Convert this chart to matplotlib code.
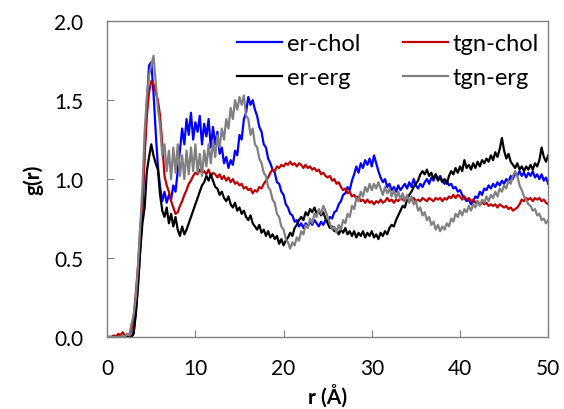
import numpy as np
import matplotlib
matplotlib.use('Agg')
import matplotlib.pyplot as plt

# radial distance grid (0.25 A bins) and g(r)
r = np.arange(0, 50.01, 0.25)

er_chol = [
    0, 0, 0, 0, 0, 0, 0, 0, 0, 0, 0, 0, 0.03, 0.15, 0.35, 0.55, 0.80, 1.18, 1.48, 1.72,
    1.74, 1.55, 1.30, 1.08, 0.95, 0.86, 0.92, 0.85, 0.90, 0.87, 0.96, 0.92, 1.05, 1.18, 1.32, 1.22, 1.38, 1.28, 1.42, 1.25,
    1.36, 1.30, 1.40, 1.22, 1.35, 1.27, 1.38, 1.20, 1.33, 1.22, 1.30, 1.16, 1.20, 1.10, 1.14, 1.07, 1.12, 1.09, 1.18, 1.15,
    1.28, 1.25, 1.38, 1.42, 1.52, 1.47, 1.50, 1.44, 1.40, 1.33, 1.30, 1.22, 1.20, 1.13, 1.10, 1.06, 1.04, 0.98, 0.97, 0.92,
    0.90, 0.84, 0.82, 0.78, 0.77, 0.73, 0.74, 0.70, 0.72, 0.69, 0.72, 0.70, 0.73, 0.71, 0.74, 0.72, 0.70, 0.73, 0.71, 0.74,
    0.73, 0.76, 0.75, 0.79, 0.80, 0.84, 0.86, 0.90, 0.91, 0.95, 0.93, 0.99, 1.03, 1.08, 1.04, 1.10, 1.07, 1.12, 1.09, 1.13,
    1.08, 1.15, 1.10, 1.05, 1.01, 0.98, 1.00, 0.95, 0.97, 0.93, 0.95, 0.92, 0.96, 0.93, 0.95, 0.97, 0.94, 0.98, 0.95, 1.00,
    0.96, 0.94, 0.97, 0.95, 0.98, 1.00, 0.97, 1.01, 0.99, 1.03, 1.00, 1.02, 0.99, 0.97, 0.99, 0.96, 0.97, 0.94, 0.95, 0.92,
    0.93, 0.90, 0.88, 0.86, 0.87, 0.84, 0.86, 0.89, 0.88, 0.92, 0.90, 0.94, 0.93, 0.96, 0.94, 0.97, 0.95, 0.98, 0.96, 0.99,
    0.97, 1.00, 0.98, 1.02, 1.00, 1.04, 1.02, 1.05, 1.02, 1.04, 1.01, 1.04, 1.02, 1.05, 1.01, 1.03, 1.00, 1.03, 0.99, 1.01,
    0.97,
]

tgn_chol = [
    0, 0, 0, 0.01, 0, 0.02, 0.01, 0.03, 0.01, 0.02, 0.01, 0.04, 0.12, 0.28, 0.45, 0.68, 0.85, 1.15, 1.40, 1.55,
    1.62, 1.60, 1.55, 1.50, 1.40, 1.22, 1.02, 0.96, 0.92, 0.86, 0.82, 0.78, 0.79, 0.83, 0.86, 0.90, 0.93, 0.97, 0.99, 1.02,
    1.04, 1.03, 1.06, 1.04, 1.05, 1.03, 1.06, 1.02, 1.04, 1.03, 1.01, 1.03, 1.00, 1.02, 0.99, 1.01, 0.98, 1.00, 0.97, 0.98,
    0.96, 0.97, 0.94, 0.95, 0.93, 0.94, 0.91, 0.93, 0.92, 0.95, 0.94, 0.97, 0.99, 1.01, 1.04, 1.06, 1.05, 1.08, 1.07, 1.09,
    1.08, 1.10, 1.09, 1.11, 1.09, 1.10, 1.08, 1.10, 1.09, 1.07, 1.09, 1.07, 1.08, 1.06, 1.07, 1.05, 1.06, 1.03, 1.04, 1.02,
    1.01, 1.02, 0.99, 1.00, 0.97, 0.98, 0.95, 0.93, 0.94, 0.91, 0.92, 0.89, 0.90, 0.88, 0.89, 0.86, 0.87, 0.85, 0.87, 0.85,
    0.86, 0.84, 0.86, 0.85, 0.87, 0.85, 0.86, 0.88, 0.86, 0.87, 0.85, 0.87, 0.86, 0.88, 0.87, 0.86, 0.88, 0.86, 0.87, 0.88,
    0.86, 0.87, 0.86, 0.88, 0.87, 0.86, 0.88, 0.87, 0.86, 0.88, 0.87, 0.88, 0.86, 0.88, 0.87, 0.89, 0.88, 0.90, 0.88, 0.90,
    0.89, 0.87, 0.89, 0.87, 0.88, 0.86, 0.87, 0.85, 0.86, 0.84, 0.85, 0.84, 0.85, 0.83, 0.84, 0.83, 0.84, 0.82, 0.84, 0.83,
    0.82, 0.83, 0.81, 0.82, 0.80, 0.81, 0.82, 0.84, 0.87, 0.86, 0.88, 0.87, 0.88, 0.86, 0.88, 0.87, 0.88, 0.86, 0.87, 0.85,
    0.84,
]

er_erg = [
    0, 0, 0, 0, 0, 0, 0, 0, 0, 0, 0, 0, 0.02, 0.15, 0.32, 0.55, 0.72, 0.82, 1.05, 1.14,
    1.22, 1.15, 1.10, 1.06, 0.90, 0.80, 0.76, 0.82, 0.72, 0.78, 0.70, 0.76, 0.68, 0.64, 0.70, 0.65, 0.68, 0.72, 0.76, 0.80,
    0.84, 0.88, 0.92, 0.96, 0.98, 1.02, 0.99, 1.03, 0.99, 0.95, 0.94, 0.90, 0.92, 0.88, 0.86, 0.89, 0.84, 0.82, 0.85, 0.80,
    0.82, 0.78, 0.80, 0.76, 0.74, 0.77, 0.72, 0.70, 0.68, 0.71, 0.66, 0.68, 0.64, 0.67, 0.63, 0.65, 0.62, 0.64, 0.59, 0.62,
    0.58, 0.61, 0.63, 0.66, 0.64, 0.69, 0.71, 0.74, 0.76, 0.74, 0.79, 0.77, 0.81, 0.79, 0.82, 0.78, 0.80, 0.77, 0.79, 0.75,
    0.72, 0.69, 0.70, 0.67, 0.68, 0.65, 0.68, 0.66, 0.69, 0.65, 0.67, 0.64, 0.67, 0.63, 0.66, 0.64, 0.67, 0.63, 0.66, 0.64,
    0.67, 0.63, 0.65, 0.62, 0.66, 0.64, 0.67, 0.65, 0.69, 0.71, 0.70, 0.74, 0.77, 0.80, 0.83, 0.82, 0.87, 0.90, 0.92, 0.95,
    0.97, 0.99, 1.03, 1.05, 1.03, 1.06, 1.02, 1.04, 1.00, 1.03, 0.99, 1.01, 0.98, 1.00, 0.97, 1.02, 1.05, 1.03, 1.07, 1.04,
    1.08, 1.05, 1.12, 1.07, 1.09, 1.06, 1.10, 1.07, 1.11, 1.08, 1.12, 1.10, 1.13, 1.11, 1.15, 1.12, 1.17, 1.14, 1.19, 1.26,
    1.18, 1.13, 1.16, 1.11, 1.09, 1.07, 1.10, 1.06, 1.08, 1.05, 1.08, 1.06, 1.09, 1.06, 1.10, 1.08, 1.12, 1.20, 1.14, 1.11,
    1.15,
]

tgn_erg = [
    0, 0, 0, 0, 0, 0, 0, 0.01, 0, 0.02, 0.01, 0.08, 0.14, 0.25, 0.45, 0.70, 0.95, 1.30, 1.52, 1.66,
    1.72, 1.78, 1.62, 1.45, 1.34, 1.15, 1.22, 1.05, 1.18, 1.00, 1.20, 1.04, 1.22, 1.02, 1.15, 1.00, 1.18, 1.03, 1.20, 1.05,
    1.22, 1.04, 1.16, 1.02, 1.18, 1.08, 1.22, 1.10, 1.24, 1.14, 1.28, 1.20, 1.32, 1.25, 1.38, 1.32, 1.45, 1.38, 1.50, 1.44,
    1.52, 1.47, 1.53, 1.40, 1.38, 1.28, 1.32, 1.22, 1.20, 1.13, 1.10, 1.04, 1.02, 0.95, 0.93, 0.87, 0.85, 0.78, 0.76, 0.70,
    0.68, 0.62, 0.60, 0.56, 0.60, 0.58, 0.63, 0.61, 0.67, 0.65, 0.71, 0.69, 0.75, 0.72, 0.78, 0.76, 0.81, 0.78, 0.83, 0.80,
    0.76, 0.72, 0.68, 0.70, 0.66, 0.71, 0.68, 0.74, 0.72, 0.78, 0.76, 0.83, 0.81, 0.88, 0.86, 0.92, 0.89, 0.95, 0.92, 0.97,
    0.93, 0.97, 0.94, 0.98, 0.94, 0.90, 0.95, 0.91, 0.94, 0.89, 0.93, 0.88, 0.92, 0.87, 0.91, 0.86, 0.90, 0.85, 0.89, 0.84,
    0.86, 0.80, 0.82, 0.77, 0.79, 0.74, 0.76, 0.71, 0.73, 0.68, 0.71, 0.67, 0.70, 0.68, 0.72, 0.70, 0.75, 0.73, 0.78, 0.76,
    0.80, 0.77, 0.81, 0.79, 0.83, 0.80, 0.84, 0.82, 0.86, 0.83, 0.87, 0.85, 0.89, 0.86, 0.90, 0.88, 0.92, 0.89, 0.94, 0.92,
    0.96, 0.94, 0.99, 0.97, 1.02, 1.05, 1.02, 0.96, 0.93, 0.89, 0.87, 0.84, 0.83, 0.80, 0.81, 0.77, 0.78, 0.74, 0.75, 0.72,
    0.74,
]

plt.rcParams['font.family'] = ['Lato', 'DejaVu Sans']

fig = plt.figure(figsize=(5.64, 4.10), dpi=100)
ax = fig.add_axes([0.19, 0.1756, 0.782, 0.7704])

lw = 1.6
l_blue, = ax.plot(r, er_chol, color='#0000FF', lw=lw, label='er-chol')
l_red, = ax.plot(r, tgn_chol, color='#C00000', lw=lw, label='tgn-chol')
l_black, = ax.plot(r, er_erg, color='#000000', lw=lw, label='er-erg')
l_gray, = ax.plot(r, tgn_erg, color='#808080', lw=lw, label='tgn-erg')

ax.set_xlim(0, 50)
ax.set_ylim(0, 2.0)
ax.set_xticks([0, 10, 20, 30, 40, 50])
ax.set_yticks([0, 0.5, 1.0, 1.5, 2.0])
ax.set_yticklabels(['0.0', '0.5', '1.0', '1.5', '2.0'])
ax.tick_params(direction='in', length=5, width=0.8, color='#808080',
               labelsize=15)
ax.tick_params(axis='y', pad=17)
ax.tick_params(axis='x', pad=15)
for s in ax.spines.values():
    s.set_color('#808080')
    s.set_linewidth(1.0)

ax.set_xlabel('r (Å)', fontsize=15, fontweight='bold', labelpad=4)
ax.set_ylabel('g(r)', fontsize=15, fontweight='bold', labelpad=8)

ax.legend(handles=[l_blue, l_black, l_red, l_gray], ncol=2, frameon=False,
          loc='upper right', bbox_to_anchor=(1.005, 1.0), fontsize=17,
          handlelength=1.9, handletextpad=0.2, columnspacing=1.8,
          labelspacing=0.55, borderaxespad=0.1)

fig.savefig('out.png', dpi=100)
